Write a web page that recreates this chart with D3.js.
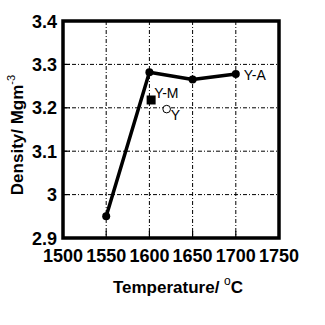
<!DOCTYPE html>
<html>
<head>
<meta charset="utf-8">
<script src="https://cdn.jsdelivr.net/npm/d3@7/dist/d3.min.js"></script>
<style>
  body { margin: 0; background: #fff; }
  text { font-family: "Liberation Sans", Arial, sans-serif; fill: #000; }
</style>
</head>
<body>
<div id="chart-container"></div>
<script>
// data
let temps = [1550, 1600, 1650, 1700],
    density = [2.95, 3.282, 3.265, 3.278],
    ymTemp = [1602], ymDensity = [3.218],
    yTemp = [1620], yDensity = [3.197],
    xTicks = [1500, 1550, 1600, 1650, 1700, 1750],
    yTicks = [2.9, 3.0, 3.1, 3.2, 3.3, 3.4],
    yTickLabels = ["2.9", "3", "3.1", "3.2", "3.3", "3.4"];

let W = 325, H = 325,
    margin = { top: 21, right: 46, bottom: 87, left: 63 },
    width = W - margin.left - margin.right,
    height = H - margin.top - margin.bottom,
    svg = d3.select("#chart-container").append("svg").attr("width", W).attr("height", H),
    g = svg.append("g").attr("transform", `translate(${margin.left},${margin.top})`);

let x = d3.scaleLinear().domain([1500, 1750]).range([0, width]),
    y = d3.scaleLinear().domain([2.9, 3.4]).range([height, 0]);

// dash-dot grid
g.selectAll(".vgrid").data(xTicks.slice(1, -1)).enter().append("line")
    .attr("x1", d => x(d)).attr("x2", d => x(d))
    .attr("y1", 0).attr("y2", height)
    .attr("stroke", "#000").attr("stroke-width", 1)
    .attr("stroke-dasharray", "4,2,1,2");
g.selectAll(".hgrid").data(yTicks.slice(1, -1)).enter().append("line")
    .attr("y1", d => y(d)).attr("y2", d => y(d))
    .attr("x1", 0).attr("x2", width)
    .attr("stroke", "#000").attr("stroke-width", 1)
    .attr("stroke-dasharray", "4,2,1,2");

// inner ticks
g.selectAll(".xtick").data(xTicks.slice(1, -1)).enter().append("line")
    .attr("x1", d => x(d)).attr("x2", d => x(d))
    .attr("y1", height).attr("y2", height - 7)
    .attr("stroke", "#000").attr("stroke-width", 1.2);
g.selectAll(".ytick").data(yTicks.slice(1, -1)).enter().append("line")
    .attr("y1", d => y(d)).attr("y2", d => y(d))
    .attr("x1", 0).attr("x2", 7)
    .attr("stroke", "#000").attr("stroke-width", 1.2);

// frame
g.append("rect")
    .attr("width", width).attr("height", height)
    .attr("fill", "none").attr("stroke", "#000").attr("stroke-width", 3.5);

// tick labels
g.selectAll(".xlab").data(xTicks).enter().append("text")
    .attr("x", d => x(d)).attr("y", height + 24)
    .attr("text-anchor", "middle")
    .attr("font-size", 18).attr("font-weight", "bold")
    .text(d => d);
g.selectAll(".ylab").data(yTicks).enter().append("text")
    .attr("x", -6).attr("y", d => y(d) + 6.5)
    .attr("text-anchor", "end")
    .attr("font-size", 18).attr("font-weight", "bold")
    .text((d, i) => yTickLabels[i]);

// axis titles
let xt = svg.append("text")
    .attr("x", 178).attr("y", 293)
    .attr("text-anchor", "middle")
    .attr("font-size", 17).attr("font-weight", "bold");
xt.append("tspan").text("Temperature/ ");
xt.append("tspan").attr("font-size", 12).attr("font-weight", "normal").attr("dy", -8).text("o");
xt.append("tspan").attr("dy", 8).text("C");

let yt = svg.append("text")
    .attr("transform", "translate(23,135) rotate(-90)")
    .attr("text-anchor", "middle")
    .attr("font-size", 17).attr("font-weight", "bold");
yt.append("tspan").text("Density/ Mgm");
yt.append("tspan").attr("font-size", 11).attr("font-weight", "normal").attr("dy", -8).text("-3");

// main series
let pts = temps.map((t, i) => [x(t), y(density[i])]);
g.append("path")
    .attr("d", d3.line()(pts))
    .attr("fill", "none").attr("stroke", "#000").attr("stroke-width", 3.5)
    .attr("stroke-linejoin", "round");
g.selectAll(".pt").data(pts).enter().append("circle")
    .attr("cx", d => d[0]).attr("cy", d => d[1]).attr("r", 4)
    .attr("fill", "#000");

// Y-M square
g.selectAll(".ym").data(ymTemp).enter().append("rect")
    .attr("x", (d, i) => x(d) - 4.5).attr("y", (d, i) => y(ymDensity[i]) - 4.5)
    .attr("width", 9).attr("height", 9).attr("fill", "#000");

// Y open circle
g.selectAll(".yy").data(yTemp).enter().append("circle")
    .attr("cx", d => x(d)).attr("cy", (d, i) => y(yDensity[i])).attr("r", 3.8)
    .attr("fill", "#fff").attr("stroke", "#000").attr("stroke-width", 1);

// labels
g.append("text")
    .attr("x", x(temps[3]) + 8).attr("y", y(density[3]) + 6)
    .attr("font-size", 14).text("Y-A");
g.append("text")
    .attr("x", x(ymTemp[0]) + 3).attr("y", y(ymDensity[0]) - 2)
    .attr("font-size", 14).text("Y-M");
g.append("text")
    .attr("x", x(yTemp[0]) + 4).attr("y", y(yDensity[0]) + 11)
    .attr("font-size", 14).text("Y");
</script>
</body>
</html>
